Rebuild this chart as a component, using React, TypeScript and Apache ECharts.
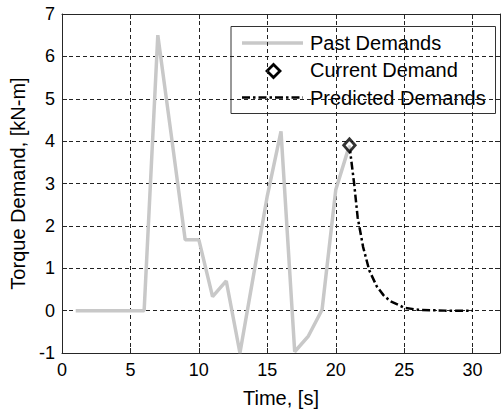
import React, { useEffect, useRef } from "react";
import * as echarts from "echarts";

const pastTimes = [1, 2, 3, 4, 5, 6, 7, 8, 9, 10, 11, 12, 13, 14, 15, 16, 17, 18, 19, 20, 21];
const pastValues = [0, 0, 0, 0, 0, 0, 6.5, 4.1, 1.67, 1.67, 0.33, 0.7, -1, 0.85, 2.71, 4.23, -0.97, -0.6, 0.02, 2.85, 3.9];
const currentTime = 21;
const currentValue = 3.9;
const predTimes = [21, 21.35, 21.6, 22, 22.45, 23, 23.5, 24, 25, 26, 27, 28, 29, 30];
const predValues = [3.9, 2.98, 2.2, 1.5, 0.95, 0.57, 0.36, 0.22, 0.07, 0.02, 0.01, 0, 0, 0];
const legendLabels = ["Past Demands", "Current Demand", "Predicted Demands"];
const xTitle = "Time, [s]";
const yTitle = "Torque Demand, [kN-m]";

const FONT = "'Liberation Sans', Arial, sans-serif";
const AXIS_COLOR = "#262626";

export default function App() {
  const ref = useRef<HTMLDivElement>(null);
  useEffect(() => {
    if (!ref.current) return;
    const chart = echarts.init(ref.current, null, { renderer: "svg" });
    const pair = (xs: number[], ys: number[]) => xs.map((x, i) => [x, ys[i]]);
    const axisCommon = {
      type: "value" as const,
      axisLine: { show: true, onZero: false, lineStyle: { color: AXIS_COLOR, width: 1 } },
      axisTick: { show: true, inside: true, length: 5, lineStyle: { color: AXIS_COLOR } },
    };
    const gridLine = { show: true, lineStyle: { color: "#222", type: [4, 3], width: 1 } };
    chart.setOption({
      animation: false,
      backgroundColor: "#ffffff",
      grid: { left: 59, top: 14, right: -2, bottom: 55, containLabel: false },
      xAxis: [
        {
          ...axisCommon,
          min: 0,
          max: 32,
          interval: 5,
          position: "bottom",
          name: xTitle,
          nameLocation: "middle",
          nameGap: 35,
          nameTextStyle: { fontFamily: FONT, fontSize: 20, color: "#000" },
          axisLabel: {
            fontFamily: FONT,
            fontSize: 18,
            color: "#000",
            margin: 8,
            formatter: (v: number) => (v % 5 === 0 ? String(v) : ""),
          },
          splitLine: gridLine,
        },
        {
          ...axisCommon,
          min: 0,
          max: 32,
          interval: 5,
          position: "top",
          axisLabel: { show: false },
          splitLine: { show: false },
        },
      ],
      yAxis: [
        {
          ...axisCommon,
          min: -1,
          max: 7,
          interval: 1,
          position: "left",
          name: yTitle,
          nameLocation: "middle",
          nameGap: 34,
          nameRotate: 90,
          nameTextStyle: { fontFamily: FONT, fontSize: 20, color: "#000" },
          axisLabel: { fontFamily: FONT, fontSize: 18, color: "#000", margin: 7 },
          splitLine: gridLine,
        },
        {
          ...axisCommon,
          min: -1,
          max: 7,
          interval: 1,
          position: "right",
          axisLabel: { show: false },
          splitLine: { show: false },
        },
      ],
      series: [
        {
          name: legendLabels[0],
          type: "line",
          data: pair(pastTimes, pastValues),
          showSymbol: false,
          lineStyle: { color: "#c8c8c8", width: 3.5 },
          z: 3,
        },
        {
          name: legendLabels[2],
          type: "line",
          data: pair(predTimes, predValues),
          showSymbol: false,
          lineStyle: { color: "#000", width: 2.5, type: [8, 3, 2.5, 3] },
          z: 4,
        },
        {
          name: legendLabels[1],
          type: "scatter",
          data: [[currentTime, currentValue]],
          symbol: "diamond",
          symbolSize: [11.5, 13],
          itemStyle: { color: "#fff", borderColor: "#000", borderWidth: 2.8 },
          z: 5,
        },
      ],
      graphic: [
        {
          type: "group",
          z: 100,
          children: [
            {
              type: "rect",
              shape: { x: 231, y: 26.5, width: 264.5, height: 87 },
              style: { fill: "#fff", stroke: "#333", lineWidth: 1 },
            },
            {
              type: "line",
              shape: { x1: 242, y1: 43, x2: 303, y2: 43 },
              style: { stroke: "#c8c8c8", lineWidth: 3.5 },
            },
            {
              type: "polygon",
              shape: { points: [[273.5, 64.5], [280, 71], [273.5, 77.5], [267, 71]] },
              style: { fill: "#fff", stroke: "#000", lineWidth: 2.8 },
            },
            {
              type: "line",
              shape: { x1: 242, y1: 97.5, x2: 303, y2: 97.5 },
              style: { stroke: "#000", lineWidth: 2.5, lineDash: [8, 3, 2.5, 3] },
            },
            ...legendLabels.map((t, i) => ({
              type: "text",
              x: 310,
              y: 43 + i * 27.3,
              style: {
                text: t,
                fill: "#000",
                font: `20px ${FONT}`,
                textVerticalAlign: "middle",
                verticalAlign: "middle",
              },
            })),
          ],
        },
      ],
    });
    return () => chart.dispose();
  }, []);
  return (
    <div
      ref={ref}
      style={{ position: "fixed", left: 0, top: 0, width: 503, height: 413, background: "#fff" }}
    />
  );
}
